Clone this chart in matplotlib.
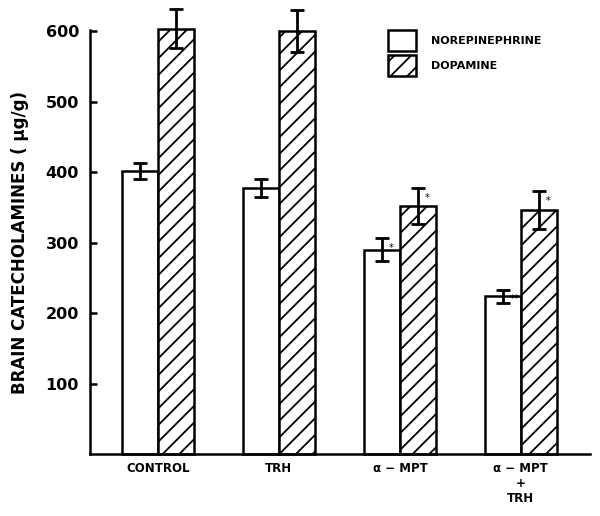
import numpy as np
import matplotlib.pyplot as plt
from matplotlib.patches import Patch

plt.rcParams['font.family'] = ['DejaVu Sans']
plt.rcParams['hatch.linewidth'] = 1.3

groups = ['CONTROL', 'TRH', 'α − MPT', 'α − MPT\n+\nTRH']
norepi = [402, 378, 290, 224]
norepi_err = [11, 13, 16, 9]
dopa = [604, 600, 352, 346]
dopa_err = [28, 30, 25, 27]
sig_ne = ['', '', '*', '**']
sig_da = ['', '', '*', '*']

fig = plt.figure(figsize=(6, 5.16), dpi=100)
ax = fig.add_axes([0.15, 0.12, 0.833, 0.822])

x = np.arange(len(groups))
w = 0.3
ax.bar(x - w / 2, norepi, w, color='white', edgecolor='k', linewidth=1.8,
       zorder=2, clip_on=False)
ax.bar(x + w / 2, dopa, w, color='white', edgecolor='k', linewidth=1.8,
       hatch='//', zorder=2, clip_on=False)
for xs, v, e in [(x - w / 2, norepi, norepi_err), (x + w / 2, dopa, dopa_err)]:
    eb = ax.errorbar(xs, v, yerr=e, fmt='none', ecolor='k', elinewidth=2,
                     capsize=5, capthick=2, zorder=3)
    for a in eb.lines[1] + eb.lines[2]:
        a.set_clip_on(False)

for i in range(len(groups)):
    if sig_ne[i]:
        ax.annotate(sig_ne[i], (x[i] - w / 2, norepi[i] + norepi_err[i]),
                    xytext=(5, -9), textcoords='offset points', fontsize=7)
    if sig_da[i]:
        ax.annotate(sig_da[i], (x[i] + w / 2, dopa[i] + dopa_err[i]),
                    xytext=(5, -9), textcoords='offset points', fontsize=7)

ax.set_xlim(-0.562, 3.57)
ax.set_ylim(0, 602)
ax.set_yticks([100, 200, 300, 400, 500, 600])
ax.tick_params(axis='y', direction='in', length=5, width=1.8, labelsize=11.5, pad=8)
ax.set_xticks(x)
ax.set_xticklabels(groups, fontsize=8.5, fontweight='bold', va='top')
ax.tick_params(axis='x', length=0, pad=6)
for t in ax.get_yticklabels():
    t.set_fontweight('bold')
for s in ['top', 'right']:
    ax.spines[s].set_visible(False)
ax.spines['left'].set_linewidth(1.8)
ax.spines['bottom'].set_linewidth(1.8)
ax.set_ylabel('BRAIN CATECHOLAMINES ( μg/g)', fontsize=12, fontweight='bold', labelpad=12)

handles = [Patch(facecolor='white', edgecolor='k', linewidth=1.8),
           Patch(facecolor='white', edgecolor='k', linewidth=1.8, hatch='//')]
ax.legend(handles, ['NOREPINEPHRINE', 'DOPAMINE'], loc='upper left',
          bbox_to_anchor=(382 / 600, 1 - 24 / 516), bbox_transform=fig.transFigure,
          frameon=False, handlelength=2.6, handleheight=2.6,
          handletextpad=1.3, labelspacing=0.35, borderpad=0,
          prop={'weight': 'bold', 'size': 8})

fig.savefig('out.png', dpi=100)
